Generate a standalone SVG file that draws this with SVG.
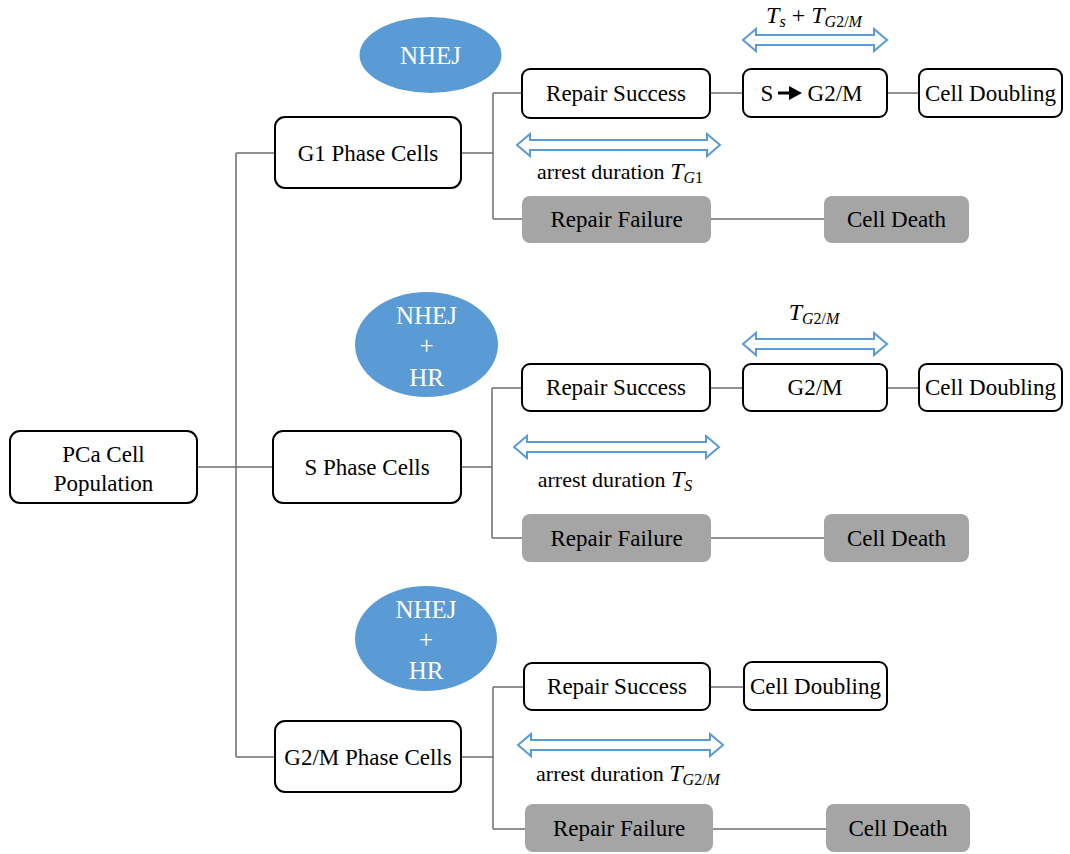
<svg xmlns="http://www.w3.org/2000/svg" width="1070" height="854" viewBox="0 0 1070 854" font-family="'Liberation Serif', serif">
<style>
.box{fill:#fff;stroke:#000;stroke-width:2}
.grey{fill:#a5a5a5;stroke:none}
.ell{fill:#5b9bd5;stroke:none}
text{font-family:'Liberation Serif',serif}
.t{font-size:23px;fill:#000;text-anchor:middle}
.w{font-size:25px;fill:#fff;text-anchor:middle}
.m{font-size:22px;fill:#000;text-anchor:middle}
.it{font-style:italic;font-size:24px}
.sub{font-size:16px}
.con{fill:none;stroke:#6e6e6e;stroke-width:1.5}
.dar{fill:#fff;stroke:#5b9bd5;stroke-width:2;stroke-linejoin:miter}
</style>
<rect width="1070" height="854" fill="#fff"/>
<g id="connectors">
<path class="con" d="M197 467H273M236 153V757M236 153H275M236 757H275"/>
<path class="con" d="M461 153H493M493 93V219M493 93H522M493 219H522M710 93H743M887 93H919M711 219H824"/>
<path class="con" d="M461 467H492M492 388V538M492 388H522M492 538H522M710 388H743M887 388H919M711 538H824"/>
<path class="con" d="M461 757H493M493 687V829M493 687H524M493 829H525M710 687H744M713 829H826"/>
</g>
<g id="arrows">
<polygon class="dar" points="743,40 756,29 756,35 874,35 874,29 887,40 874,51 874,45 756,45 756,51"/>
<polygon class="dar" points="517,145 530,134 530,140 707,140 707,134 720,145 707,156 707,150 530,150 530,156"/>
<polygon class="dar" points="743,344 756,333 756,339 874,339 874,333 887,344 874,355 874,349 756,349 756,355"/>
<polygon class="dar" points="514,447 527,436 527,442 706,442 706,436 719,447 706,458 706,452 527,452 527,458"/>
<polygon class="dar" points="518,745 531,734 531,740 710,740 710,734 723,745 710,756 710,750 531,750 531,756"/>
</g>
<g id="labels">
<text class="m" x="814" y="23"><tspan class="it">T</tspan><tspan class="it sub" dy="4">s</tspan><tspan dy="-4" font-size="24"> + </tspan><tspan class="it">T</tspan><tspan class="it sub" dy="4">G</tspan><tspan class="sub">2/</tspan><tspan class="it sub">M</tspan></text>
<text class="m" x="620" y="179">arrest duration <tspan class="it">T</tspan><tspan class="it sub" dy="4">G</tspan><tspan class="sub">1</tspan></text>
<text class="m" x="814" y="320"><tspan class="it">T</tspan><tspan class="it sub" dy="4">G</tspan><tspan class="sub">2/</tspan><tspan class="it sub">M</tspan></text>
<text class="m" x="615" y="487">arrest duration <tspan class="it">T</tspan><tspan class="it sub" dy="4">S</tspan></text>
<text class="m" x="628" y="781">arrest duration <tspan class="it">T</tspan><tspan class="it sub" dy="4">G</tspan><tspan class="sub">2/</tspan><tspan class="it sub">M</tspan></text>
</g>
<g id="pca"><rect class="box" x="10" y="431" width="187" height="72" rx="10"/><text class="t" x="103.5" y="462">PCa Cell</text><text class="t" x="103.5" y="491">Population</text></g>
<g id="g1"><rect class="box" x="275" y="117" width="186" height="71" rx="10"/><text class="t" x="368" y="161">G1 Phase Cells</text></g>
<g id="s"><rect class="box" x="273" y="431" width="188" height="72" rx="10"/><text class="t" x="367" y="475">S Phase Cells</text></g>
<g id="g2m"><rect class="box" x="275" y="721" width="186" height="71" rx="10"/><text class="t" x="368" y="765">G2/M Phase Cells</text></g>
<g id="nhej1"><ellipse class="ell" cx="430.5" cy="55" rx="71" ry="38"/><text class="w" x="430.5" y="64">NHEJ</text></g>
<g id="nhej2"><ellipse class="ell" cx="426.5" cy="344.5" rx="71.5" ry="52.5"/><text class="w" x="426.5" y="324">NHEJ</text><text class="w" x="426.5" y="354">+</text><text class="w" x="426.5" y="386">HR</text></g>
<g id="nhej3"><ellipse class="ell" cx="426" cy="638.5" rx="71" ry="52.5"/><text class="w" x="426" y="618">NHEJ</text><text class="w" x="426" y="648">+</text><text class="w" x="426" y="679">HR</text></g>
<g id="rs1"><rect class="box" x="522" y="69" width="188" height="49" rx="8"/><text class="t" x="616" y="101">Repair Success</text></g>
<g id="sg2m"><rect class="box" x="743" y="69" width="144" height="48" rx="8"/><text class="t" x="767" y="101">S</text><path d="M778 93H791" stroke="#000" stroke-width="3"/><polygon points="789,86 802,93 789,100" fill="#000"/><text class="t" x="835" y="101">G2/M</text></g>
<g id="cd1"><rect class="box" x="919" y="69" width="143" height="48" rx="8"/><text class="t" x="990.5" y="101">Cell Doubling</text></g>
<g id="rf1"><rect class="grey" x="522" y="196" width="189" height="47" rx="8"/><text class="t" x="616.5" y="227">Repair Failure</text></g>
<g id="death1"><rect class="grey" x="824" y="196" width="145" height="47" rx="8"/><text class="t" x="896.5" y="227">Cell Death</text></g>
<g id="rs2"><rect class="box" x="522" y="364" width="188" height="47" rx="8"/><text class="t" x="616" y="395">Repair Success</text></g>
<g id="g2m2"><rect class="box" x="743" y="364" width="144" height="47" rx="8"/><text class="t" x="815" y="395">G2/M</text></g>
<g id="cd2"><rect class="box" x="919" y="364" width="143" height="47" rx="8"/><text class="t" x="990.5" y="395">Cell Doubling</text></g>
<g id="rf2"><rect class="grey" x="522" y="514" width="189" height="48" rx="8"/><text class="t" x="616.5" y="546">Repair Failure</text></g>
<g id="death2"><rect class="grey" x="824" y="514" width="145" height="48" rx="8"/><text class="t" x="896.5" y="546">Cell Death</text></g>
<g id="rs3"><rect class="box" x="524" y="663" width="186" height="47" rx="8"/><text class="t" x="617" y="694">Repair Success</text></g>
<g id="cd3"><rect class="box" x="744" y="662" width="143" height="48" rx="8"/><text class="t" x="815.5" y="694">Cell Doubling</text></g>
<g id="rf3"><rect class="grey" x="525" y="804" width="188" height="48" rx="8"/><text class="t" x="619" y="836">Repair Failure</text></g>
<g id="death3"><rect class="grey" x="826" y="804" width="144" height="48" rx="8"/><text class="t" x="898" y="836">Cell Death</text></g>
</svg>
